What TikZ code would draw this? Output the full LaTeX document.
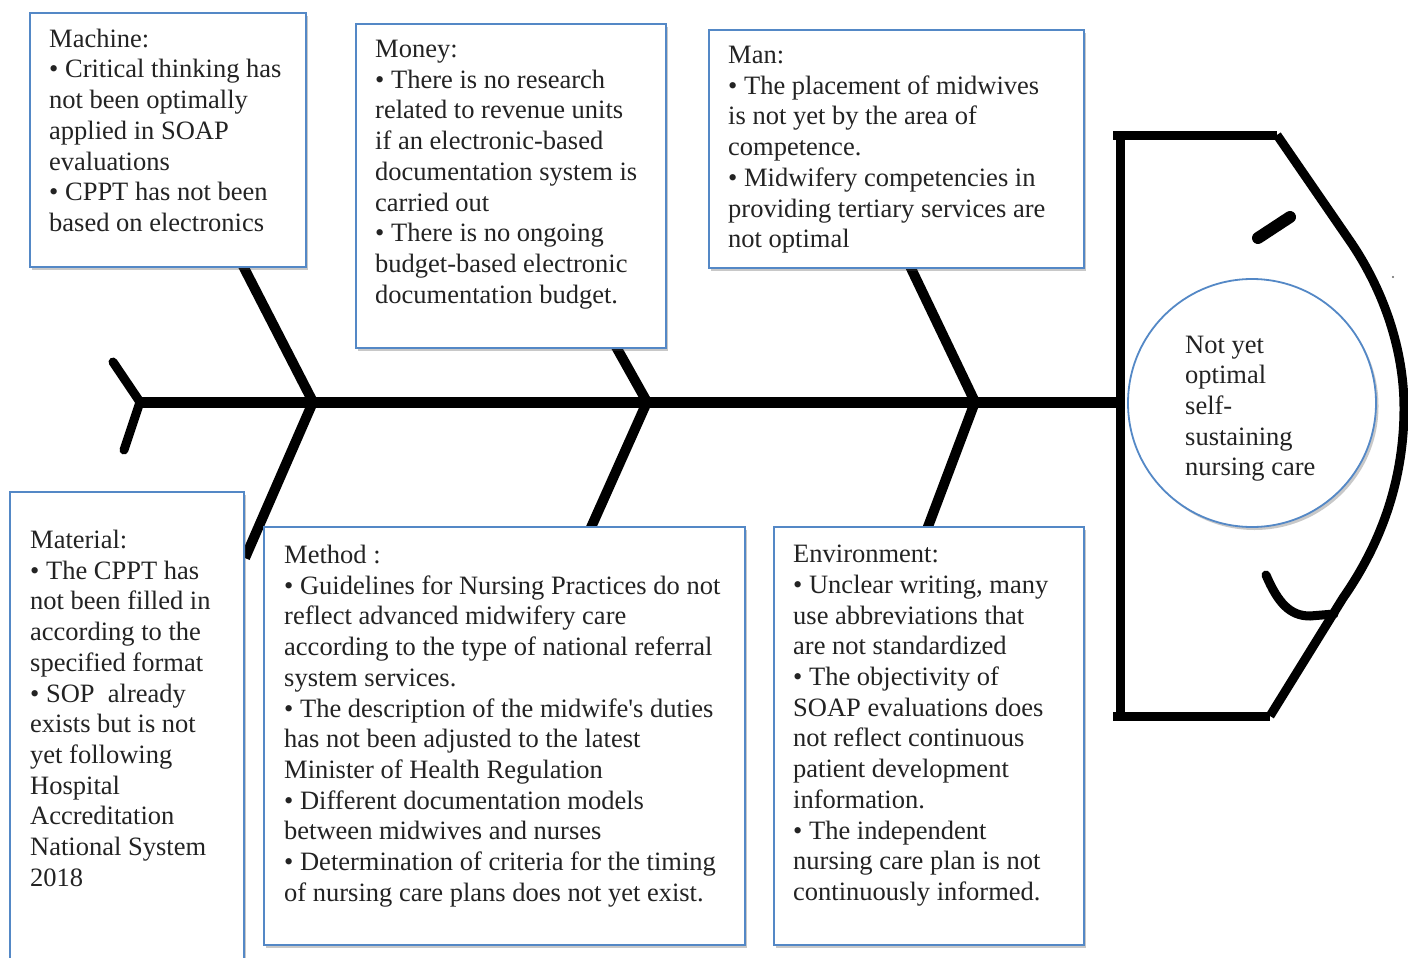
\documentclass[tikz,border=0pt]{standalone}
\usepackage{fontspec}
\setmainfont{Liberation Serif}
\newfontfamily\rawserif{Liberation Serif}
\usetikzlibrary{shadows}
\definecolor{boxblue}{RGB}{84,136,198}
\definecolor{txtgray}{RGB}{35,35,35}
\begin{document}
\begin{tikzpicture}[x=1pt,y=-1pt,
  cbox/.style={draw=boxblue, line width=1.8pt, fill=white, rectangle, inner sep=0pt, anchor=north west,
    drop shadow={shadow xshift=2.5pt, shadow yshift=-3pt, opacity=0.3, fill=black!70}},
  txt/.style={anchor=north west, align=left, inner sep=0pt, font=\fontsize{26.5}{30.7}\selectfont, text=txtgray},
  bone/.style={line width=10pt},
  fishline/.style={line width=9pt, line join=round}]
\clip (0,0) rectangle (1408,958);
\fill[white] (0,0) rectangle (1408,958);
% spine and tail
\coordinate (tail) at (140,402);
\coordinate (headjoin) at (1120,402);
\coordinate (tailtop) at (113,362);
\coordinate (tailbot) at (124,450);
\draw[line width=11pt] (tail) -- (headjoin);
\draw[line width=9pt, line cap=round, line join=round] (tailtop) -- (tail) -- (tailbot);
% junctions
\coordinate (j1) at (313,402);
\coordinate (j2) at (647,402);
\coordinate (j3) at (975,402);
\coordinate (b1u) at (240,260);
\coordinate (b1l) at (245,558);
\coordinate (b2u) at (610,336);
\coordinate (b2l) at (589,532);
\coordinate (b3u) at (908,262);
\coordinate (b3l) at (926,532);
\draw[bone] (b1u) -- (j1) -- (b1l);
\draw[bone] (b2u) -- (j2) -- (b2l);
\draw[bone] (b3u) -- (j3) -- (b3l);
% head
\draw[fishline] (1277,135) -- (1113,135);
\draw[fishline] (1120,135) -- (1120,716);
\draw[fishline] (1113,716) -- (1270,716);
\draw[fishline] (1277,135) -- (1352,244) .. controls (1384,292) and (1404,350) .. (1404,408)
  .. controls (1404,482) and (1380,545) .. (1343,598) -- (1270,716);
\draw[line width=12pt, line cap=round] (1258,238) -- (1290,217);
\draw[line width=9pt, line cap=round] (1266,575) .. controls (1278,603) and (1290,616) .. (1310,616) -- (1334,614);
\fill[black!60] (1393,277) circle (1.2pt);
% effect
\node[circle, draw=boxblue, line width=1.8pt, fill=white, minimum size=248pt, inner sep=0pt,
  drop shadow={shadow xshift=2.5pt, shadow yshift=-3pt, opacity=0.3, fill=black!70}] (effect) at (1252,403) {};
\node[txt] (effectT) at (1185,335.5) {Not yet\\optimal\\self-\\sustaining\\nursing care};
% boxes
\node[cbox, minimum width=276pt, minimum height=254pt] (machine) at (29,12) {};
\node[txt] (machineT) at (49,28.7) {Machine:\\
• Critical thinking has\\
not been optimally\\
applied in SOAP\\
evaluations\\
• CPPT has not been\\
based on electronics};
\node[cbox, minimum width=310pt, minimum height=324pt] (money) at (355,23) {};
\node[txt] (moneyT) at (375,40) {Money:\\
• There is no research\\
related to revenue units\\
if an electronic-based\\
documentation system is\\
carried out\\
• There is no ongoing\\
budget-based electronic\\
documentation budget.};
\node[cbox, minimum width=375pt, minimum height=238pt] (man) at (708,29) {};
\node[txt] (manT) at (728,46) {Man:\\
• The placement of midwives\\
is not yet by the area of\\
competence.\\
• Midwifery competencies in\\
providing tertiary services are\\
not optimal};
\node[cbox, minimum width=234pt, minimum height=500pt] (material) at (9,491) {};
\node[txt] (materialT) at (30,530) {Material:\\
• The CPPT has\\
not been filled in\\
according to the\\
specified format\\
• SOP\ \ already\\
exists but is not\\
yet following\\
Hospital\\
Accreditation\\
National System\\
2018};
\node[cbox, minimum width=481pt, minimum height=418pt] (method) at (263,526) {};
\node[txt] (methodT) at (284,545) {Method :\\
• Guidelines for Nursing Practices do not\\
reflect advanced midwifery care\\
according to the type of national referral\\
system services.\\
• The description of the midwife{\rawserif'}s duties\\
has not been adjusted to the latest\\
Minister of Health Regulation\\
• Different documentation models\\
between midwives and nurses\\
• Determination of criteria for the timing\\
of nursing care plans does not yet exist.};
\node[cbox, minimum width=310pt, minimum height=418pt] (env) at (773,526) {};
\node[txt] (envT) at (793,545) {Environment:\\
• Unclear writing, many\\
use abbreviations that\\
are not standardized\\
• The objectivity of\\
SOAP evaluations does\\
not reflect continuous\\
patient development\\
information.\\
• The independent\\
nursing care plan is not\\
continuously informed.};
\end{tikzpicture}
\end{document}
